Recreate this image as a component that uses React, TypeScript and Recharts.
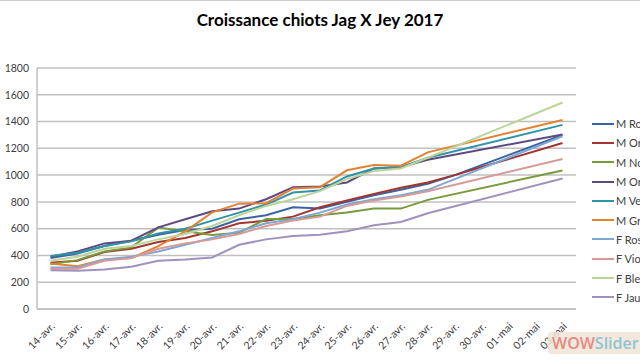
import { CartesianGrid, Line, LineChart, XAxis, YAxis } from "recharts";

const dates = [
  "14-avr.", "15-avr.", "16-avr.", "17-avr.", "18-avr.", "19-avr.", "20-avr.",
  "21-avr.", "22-avr.", "23-avr.", "24-avr.", "25-avr.", "26-avr.", "27-avr.",
  "28-avr.", "29-avr.", "30-avr.", "01-mai", "02-mai", "03-mai",
];

const yTicks = [0, 200, 400, 600, 800, 1000, 1200, 1400, 1600, 1800];

// weights in grams, null = not weighed that day (line bridges the gap)
const mRouge = [380, 415, 470, 510, 555, 590, 600, 670, 700, 760, 750, 800, 850, 890, 935, 1000, null, null, null, 1300];
const mOrange = [345, 360, 425, 450, 500, 530, 580, 640, 660, 690, 760, 810, 860, 905, 945, 1000, null, null, null, 1240];
const mNoir = [335, 365, 430, 460, 608, 580, 552, 570, 672, 672, 700, 720, 750, 750, 815, null, null, null, null, 1035];
const mOr = [390, 430, 490, 510, 610, 670, 730, 750, 820, 910, 915, 945, 1050, 1060, 1115, null, null, null, null, 1303];
const mVert = [395, 420, 470, 505, 565, 600, 660, 720, 780, 870, 885, 990, 1050, 1060, 1130, null, null, null, null, 1375];
const mGris = [340, 320, 370, 380, 470, 580, 722, 787, 790, 900, 910, 1036, 1075, 1070, 1170, null, null, null, null, 1412];
const fRose = [310, 310, 370, 390, 430, 480, 530, 580, 640, 670, 720, 780, 820, 850, 890, null, null, null, null, 1290];
const fViolet = [300, 300, 360, 380, 450, 490, 520, 560, 620, 660, 690, 770, 810, 840, 880, null, null, null, null, 1120];
const fBleu = [360, 390, 450, 470, 520, 560, 620, 700, 770, 820, 880, 970, 1030, 1050, 1130, null, null, null, null, 1542];
const fJaune = [290, 285, 295, 315, 360, 370, 385, 480, 520, 545, 555, 580, 625, 650, 715, null, null, null, null, 975];

const series = [
  { key: "M Rouge", values: mRouge, color: "#3B64A0" },
  { key: "M Orange", values: mOrange, color: "#A23532" },
  { key: "M Noir", values: mNoir, color: "#7A9A3E" },
  { key: "M Or", values: mOr, color: "#5E4A80" },
  { key: "M Vert", values: mVert, color: "#2F93AA" },
  { key: "M Gris", values: mGris, color: "#E5822F" },
  { key: "F Rose", values: fRose, color: "#7EA7D4" },
  { key: "F Violet", values: fViolet, color: "#D69A97" },
  { key: "F Bleu", values: fBleu, color: "#BCD49A" },
  { key: "F Jaune", values: fJaune, color: "#A092BE" },
];

const data = dates.map((d, i) => {
  const row: Record<string, string | number | null> = { date: d };
  series.forEach((s) => {
    row[s.key] = s.values[i];
  });
  return row;
});

const font = "Lato, 'Open Sans', sans-serif";

function DateTick(props: any) {
  const { x, y, payload } = props;
  return (
    <text
      x={x + 5}
      y={y + 10}
      transform={`rotate(-45, ${x + 5}, ${y + 10})`}
      textAnchor="end"
      fontSize={10.5}
      fontFamily={font}
      fill="#404040"
    >
      {payload.value}
    </text>
  );
}

export default function App() {
  return (
    <div
      style={{
        position: "absolute",
        left: 0,
        top: 0,
        width: 640,
        height: 360,
        overflow: "hidden",
        background: "#fff",
        borderTop: "1px solid #c6cbcb",
        boxSizing: "border-box",
      }}
    >
      <div
        style={{
          position: "absolute",
          top: 8,
          width: 640,
          textAlign: "center",
          fontFamily: font,
          fontWeight: 700,
          fontSize: 17,
          color: "#000",
        }}
      >
        Croissance chiots Jag X Jey 2017
      </div>
      <LineChart width={640} height={359} data={data} margin={{ top: 67, right: 64, bottom: 0, left: 0 }}>
        <CartesianGrid vertical={false} stroke="#c0c0c0" strokeWidth={1.5} />
        <XAxis
          dataKey="date"
          interval={0}
          padding={{ left: 13.5, right: 13.5 }}
          axisLine={{ stroke: "#c0c0c0", strokeWidth: 1.5 }}
          tickLine={false}
          tick={<DateTick />}
          height={51}
        />
        <YAxis
          domain={[0, 1800]}
          ticks={yTicks}
          width={37}
          axisLine={{ stroke: "#c0c0c0", strokeWidth: 1.5 }}
          tickLine={false}
          tick={{ fontSize: 10.5, fontFamily: font, fill: "#404040" }}
        />
        {series.map((s) => (
          <Line
            key={s.key}
            dataKey={s.key}
            stroke={s.color}
            strokeWidth={2}
            dot={false}
            connectNulls
            isAnimationActive={false}
          />
        ))}
      </LineChart>
      <div style={{ position: "absolute", left: 592, top: 113, fontFamily: font, fontSize: 11, color: "#404040" }}>
        {series.map((s) => (
          <div key={s.key} style={{ display: "flex", alignItems: "center", height: 19.3, whiteSpace: "nowrap" }}>
            <span style={{ display: "inline-block", width: 22, height: 2, background: s.color, marginRight: 2 }} />
            {s.key}
          </div>
        ))}
      </div>
      <div
        style={{
          position: "absolute",
          left: 548,
          top: 331,
          padding: "0 4px",
          borderRadius: 3,
          background: "rgba(240,228,214,0.85)",
          fontFamily: "'Open Sans', sans-serif",
          fontSize: 16,
          fontWeight: 600,
          lineHeight: "22px",
        }}
      >
        <span style={{ color: "#e58a84" }}>WOW</span>
        <span style={{ color: "#8ec4d6" }}>Slider</span>
      </div>
    </div>
  );
}
